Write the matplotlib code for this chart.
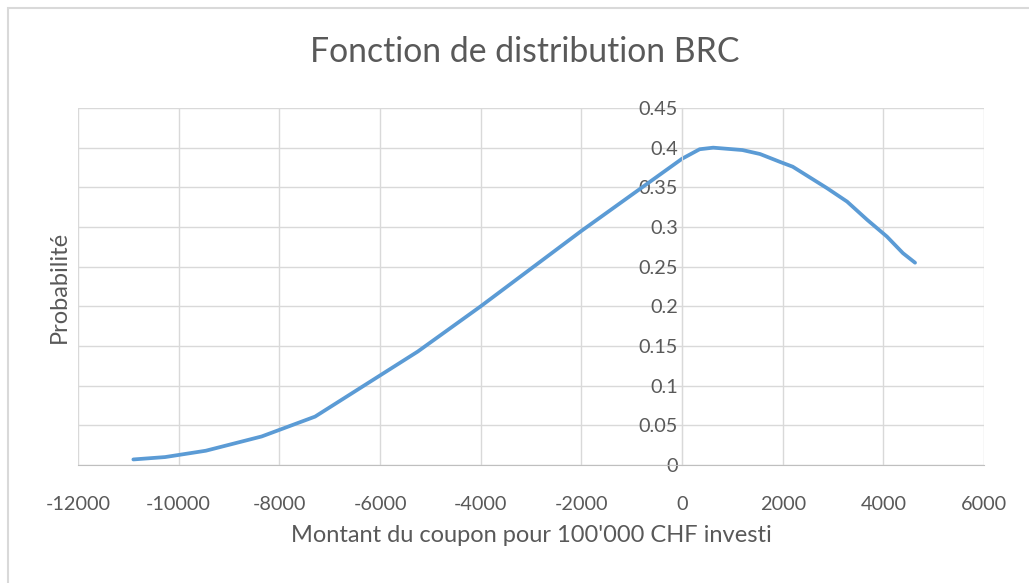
import matplotlib.pyplot as plt
from matplotlib.patches import Rectangle

plt.rcParams['font.family'] = ['Lato', 'DejaVu Sans']

# points
montant = [-10900, -10270, -9460, -8350, -7290, -5250, -4000, -2000, 0,
           350, 620, 1200, 1550, 1950, 2200, 2880, 3280, 3680, 4070, 4390, 4630]
proba = [0.007, 0.010, 0.018, 0.036, 0.061, 0.143, 0.200, 0.295, 0.386,
         0.398, 0.400, 0.397, 0.392, 0.382, 0.376, 0.349, 0.332, 0.309, 0.288, 0.267, 0.255]

xticks = list(range(-12000, 6001, 2000))
yticks = [0, 0.05, 0.1, 0.15, 0.2, 0.25, 0.3, 0.35, 0.4, 0.45]
ytick_labels = ['0', '0.05', '0.1', '0.15', '0.2', '0.25', '0.3', '0.35', '0.4', '0.45']

grey = '#595959'
grid = '#d9d9d9'

fig = plt.figure(figsize=(10.29, 5.83), dpi=100)
fig.patches.append(Rectangle((8 / 1029, -0.1), 1.2, 1 - 8 / 583 + 0.1, transform=fig.transFigure,
                             fill=False, edgecolor='#d9d9d9', lw=1.5))

ax = fig.add_axes([78 / 1029, 118 / 583, 906 / 1029, 357 / 583])
ax.plot(montant, proba, color='#5b9bd5', lw=2.7, solid_capstyle='round')

ax.set_xlim(-12000, 6000)
ax.set_ylim(0, 0.45)
ax.set_xticks(xticks)
ax.set_xticklabels([str(t) for t in xticks])
ax.set_yticks(yticks)
ax.set_yticklabels(ytick_labels)
ax.grid(True, color=grid, lw=1)
ax.set_axisbelow(True)

for s in ['top', 'right']:
    ax.spines[s].set_visible(False)
ax.spines['left'].set_position(('data', 0))
ax.spines['left'].set_color(grid)
ax.spines['bottom'].set_color('#bfbfbf')
ax.tick_params(axis='both', length=0, colors=grey, labelsize=14.3)
ax.tick_params(axis='x', pad=22)
ax.tick_params(axis='y', pad=3)

fig.text(525 / 1029, 1 - 52 / 583, 'Fonction de distribution BRC', fontsize=24.3, color=grey,
         ha='center', va='center')
fig.text(531 / 1029, 1 - 536 / 583, "Montant du coupon pour 100'000 CHF investi", fontsize=17,
         color=grey, ha='center', va='center')
fig.text(59 / 1029, 1 - 287 / 583, 'Probabilité', rotation=90, fontsize=17, color=grey,
         ha='center', va='center')

fig.savefig('out.png', dpi=100)
